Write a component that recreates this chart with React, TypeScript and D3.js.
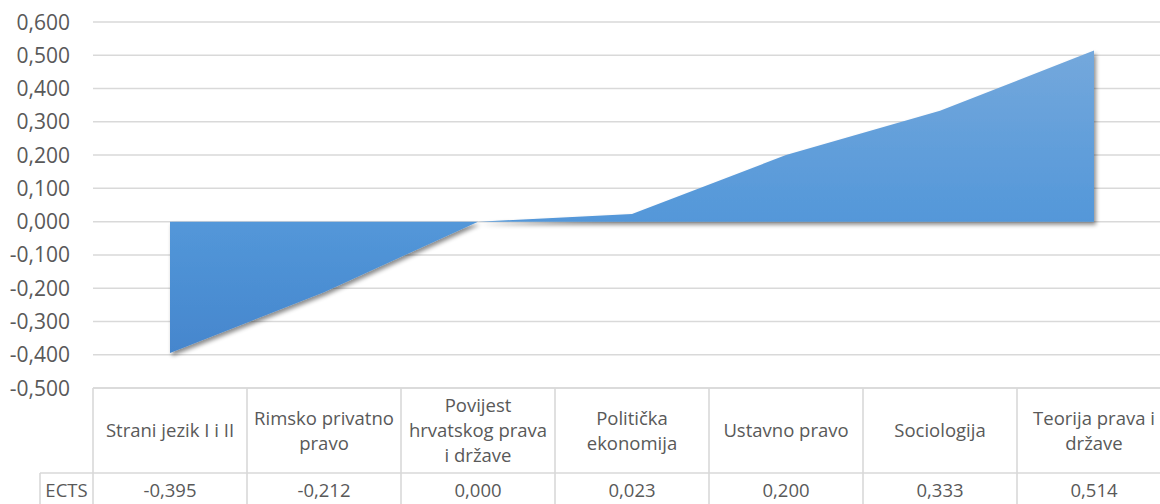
import React from "react";
import * as d3 from "d3";

const categoryLines: string[][] = [
  ["Strani jezik I i II"],
  ["Rimsko privatno", "pravo"],
  ["Povijest", "hrvatskog prava", "i države"],
  ["Politička", "ekonomija"],
  ["Ustavno pravo"],
  ["Sociologija"],
  ["Teorija prava i", "države"],
];
const categories: string[] = categoryLines.map((l) => l.join(" "));
const values: number[] = [-0.395, -0.212, 0.0, 0.023, 0.2, 0.333, 0.514];
const seriesName = "ECTS";
const yTicks: number[] = [-0.5, -0.4, -0.3, -0.2, -0.1, 0, 0.1, 0.2, 0.3, 0.4, 0.5, 0.6];

const W = 1160;
const H = 504;
const FONT = "'Open Sans', 'Noto Sans', sans-serif";
const TEXT = "#595959";
const GRID = "#D9D9D9";

const fmt = (v: number) => d3.format(".3f")(v).replace("−", "-").replace(".", ",");

export default function App() {
  const plotLeft = 93;
  const colW = 154;
  const x = d3
    .scaleBand<string>()
    .domain(categories)
    .range([plotLeft, plotLeft + colW * categories.length])
    .padding(0);
  const y = d3.scaleLinear().domain([-0.5, 0.6]).range([388, 22]);
  const cx = (i: number) => (x(categories[i]) as number) + x.bandwidth() / 2;

  const area = d3
    .area<number>()
    .x((_, i) => cx(i))
    .y0(() => y(0))
    .y1((d) => y(d));

  const tableTop = y(-0.5);
  const headerBottom = 473;
  const tableBottom = 507;
  const labelLeft = 40;
  const headerMid = (tableTop + headerBottom) / 2;
  const dataMid = 490;

  return (
    <svg
      width={W}
      height={H}
      style={{ position: "absolute", left: 0, top: 0, display: "block", background: "#fff" }}
    >
      <defs>
        <linearGradient id="areaGrad" gradientUnits="userSpaceOnUse" x1="0" x2="0" y1={y(0.514)} y2={y(-0.395)}>
          <stop offset="0" stopColor="#74A8DC" />
          <stop offset="0.57" stopColor="#5397D9" />
          <stop offset="1" stopColor="#4586CD" />
        </linearGradient>
        <filter id="shadow" x="-10%" y="-10%" width="120%" height="130%">
          <feDropShadow dx="2" dy="3" stdDeviation="2.2" floodColor="#000" floodOpacity="0.45" />
        </filter>
      </defs>
      <rect x={0} y={0} width={W} height={H} fill="#fff" />

      {/* gridlines */}
      {yTicks.map((t) => (
        <line key={"g" + t} x1={plotLeft} x2={W} y1={y(t)} y2={y(t)} stroke={GRID} strokeWidth={1.5} />
      ))}

      {/* y labels */}
      {yTicks.map((t) => (
        <text
          key={"l" + t}
          x={70}
          y={y(t)}
          dy="0.36em"
          textAnchor="end"
          fontFamily={FONT}
          fontSize={21}
          fill={TEXT}
        >
          {fmt(t)}
        </text>
      ))}

      {/* area */}
      <path d={area(values) || ""} fill="url(#areaGrad)" filter="url(#shadow)" />

      {/* data table */}
      <g stroke={GRID} strokeWidth={1.6}>
        <line x1={plotLeft} x2={W} y1={tableTop} y2={tableTop} />
        <line x1={labelLeft} x2={W} y1={headerBottom} y2={headerBottom} />
        <line x1={labelLeft} x2={W} y1={tableBottom} y2={tableBottom} />
        <line x1={labelLeft} x2={labelLeft} y1={headerBottom} y2={tableBottom} />
        {d3.range(categories.length + 1).map((i) => (
          <line key={"v" + i} x1={plotLeft + i * colW} x2={plotLeft + i * colW} y1={tableTop} y2={tableBottom} />
        ))}
      </g>

      {categoryLines.map((lines, i) => (
        <text key={"c" + i} textAnchor="middle" fontFamily={FONT} fontSize={18.5} fill={TEXT}>
          {lines.map((ln, j) => (
            <tspan key={j} x={cx(i)} y={headerMid + (j - (lines.length - 1) / 2) * 25} dy="0.36em">
              {ln}
            </tspan>
          ))}
        </text>
      ))}

      <text x={(labelLeft + plotLeft) / 2} y={dataMid} dy="0.36em" textAnchor="middle" fontFamily={FONT} fontSize={18.5} fill={TEXT}>
        {seriesName}
      </text>
      {values.map((v, i) => (
        <text key={"d" + i} x={cx(i)} y={dataMid} dy="0.36em" textAnchor="middle" fontFamily={FONT} fontSize={18.5} fill={TEXT}>
          {fmt(v)}
        </text>
      ))}
    </svg>
  );
}
